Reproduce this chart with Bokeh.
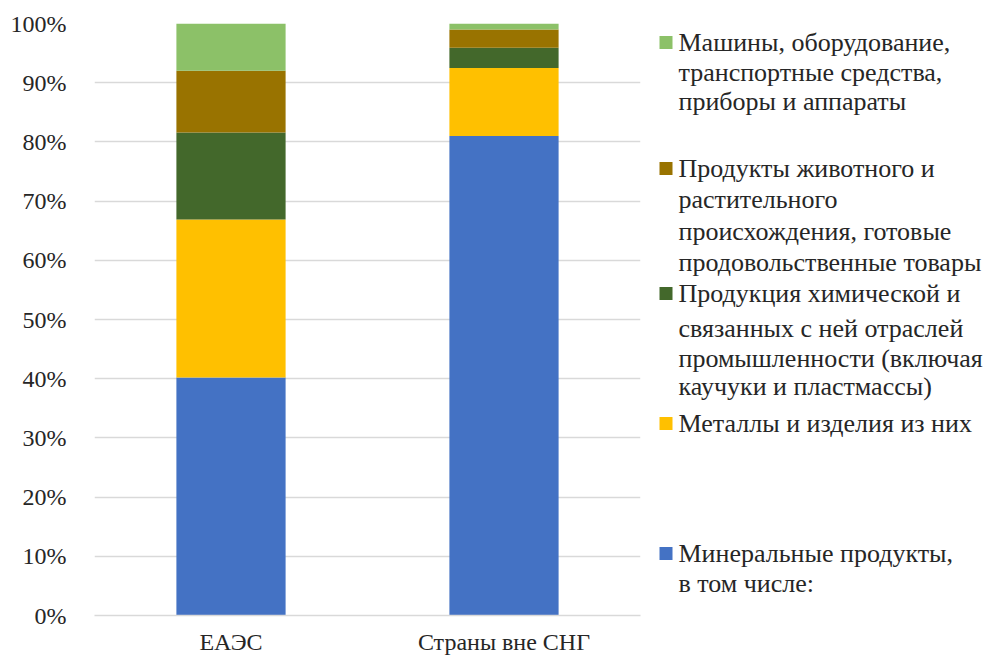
from bokeh.plotting import figure
from bokeh.layouts import row
from bokeh.models import FactorRange, Range1d, FixedTicker, PrintfTickFormatter
from bokeh.core.properties import value
from bokeh.embed import file_html
from bokeh.resources import INLINE

categories = ["ЕАЭС", "Страны вне СНГ"]
series_keys = ["mineral", "metals", "chemical", "food", "machines"]
mineral = [40.2, 81.0]
metals = [26.7, 11.5]
chemical = [14.7, 3.4]
food = [10.4, 3.1]
machines = [8.0, 1.0]
colors = ["#4472C4", "#FFC000", "#43682B", "#997300", "#8CC168"]
y_ticks = [0, 10, 20, 30, 40, 50, 60, 70, 80, 90, 100]

legend_lines = {
    "machines": ["Машины,  оборудование,", "транспортные средства,", "приборы и аппараты"],
    "food": ["Продукты животного и", "растительного", "происхождения, готовые", "продовольственные товары"],
    "chemical": ["Продукция химической и", "связанных с ней отраслей", "промышленности (включая", "каучуки и пластмассы)"],
    "metals": ["Металлы  и изделия из них"],
    "mineral": ["Минеральные продукты,", "в том числе:"],
}

FONT = "Times New Roman"
TXT = "#262626"
H = 657
TOP, BOTTOM = 23, 42

source = dict(cat=categories, mineral=mineral, metals=metals, chemical=chemical, food=food, machines=machines)

p = figure(x_range=FactorRange(*categories, range_padding=0), y_range=Range1d(0, 100),
           width=645, height=H, output_backend="svg", toolbar_location=None,
           min_border_left=94, min_border_right=5, min_border_top=TOP, min_border_bottom=BOTTOM)
p.outline_line_color = None
p.background_fill_color = "white"
p.border_fill_color = "white"

p.vbar_stack(series_keys, x="cat", width=0.4, color=colors, line_color=None, source=source)

p.yaxis.ticker = FixedTicker(ticks=y_ticks)
p.yaxis.formatter = PrintfTickFormatter(format="%d%%")
p.yaxis.axis_line_color = None
p.yaxis.major_tick_line_color = None
p.yaxis.minor_tick_line_color = None
p.yaxis.major_label_standoff = 22
p.yaxis.major_label_text_font = FONT
p.yaxis.major_label_text_font_size = "24px"
p.yaxis.major_label_text_color = TXT

p.xaxis.axis_line_color = "#D9D9D9"
p.xaxis.axis_line_width = 1.5
p.xaxis.major_tick_line_color = None
p.xaxis.minor_tick_line_color = None
p.xaxis.major_label_standoff = 7
p.xaxis.major_label_text_font = FONT
p.xaxis.major_label_text_font_size = "24px"
p.xaxis.major_label_text_color = TXT

p.xgrid.grid_line_color = None
p.ygrid.grid_line_color = "#D9D9D9"
p.ygrid.grid_line_width = 1.5

# legend panel: a pixel-space figure (y grows downward, frame aligned with the chart frame)
LW = 345
lg = figure(x_range=Range1d(0, LW), y_range=Range1d(H - BOTTOM, TOP), width=LW, height=H,
            output_backend="svg", toolbar_location=None, title_location=None,
            min_border_left=0, min_border_right=0, min_border_top=TOP, min_border_bottom=BOTTOM)
lg.axis.visible = False
lg.grid.visible = False
lg.outline_line_color = None
lg.background_fill_color = "white"
lg.border_fill_color = "white"

line_y = {
    "machines": [42, 72, 101],
    "food": [168, 199, 231, 262],
    "chemical": [293, 328, 358, 386],
    "metals": [423],
    "mineral": [553, 583],
}
sq_x, sq_y, sq_c = [], [], []
tx, ty, tt = [], [], []
for key, col in zip(series_keys, colors):
    ys = line_y[key]
    sq_x.append(20.5)
    sq_y.append(ys[0])
    sq_c.append(col)
    for txt, yy in zip(legend_lines[key], ys):
        tx.append(33)
        ty.append(yy)
        tt.append(txt)

lg.rect(x=sq_x, y=sq_y, width=13, height=13, fill_color=sq_c, line_color=None)
lg.text(x=tx, y=ty, text=tt, text_font=value(FONT), text_font_size="26px", text_color=TXT,
        text_baseline="middle", text_align="left")

layout = row(p, lg, spacing=0)
open("out.html", "w").write(file_html(layout, INLINE))
